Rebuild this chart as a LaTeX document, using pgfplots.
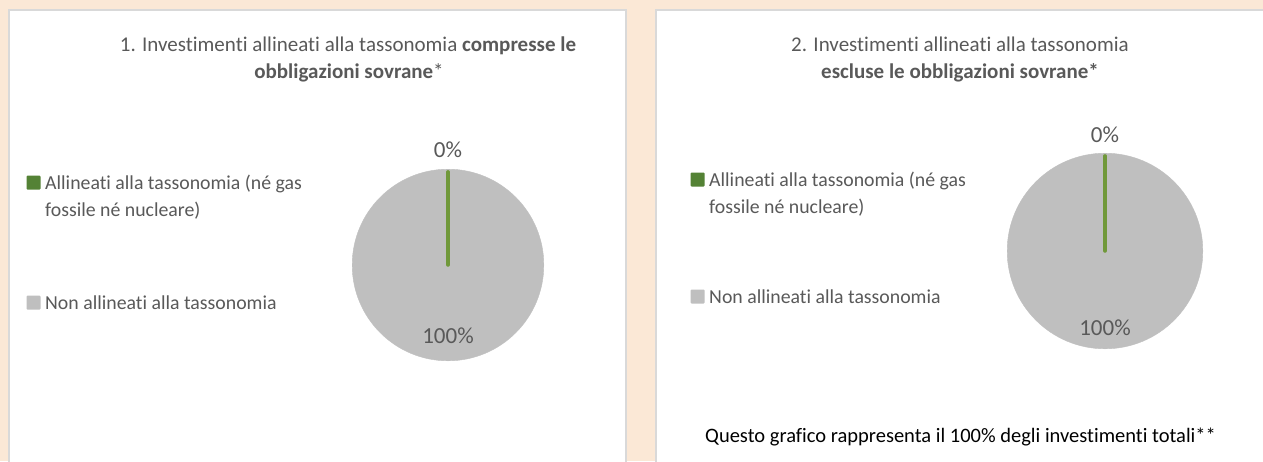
\documentclass[border=0pt]{standalone}
\usepackage{pgfplots}
\pgfplotsset{compat=1.18}
\usepackage{fontspec}
\setmainfont[Ligatures=NoCommon]{Carlito}
\definecolor{bgpeach}{HTML}{FBE8D6}
\definecolor{panelborder}{HTML}{D9D9D9}
\definecolor{pgray}{HTML}{BFBFBF}
\definecolor{pgreen}{HTML}{70983A}
\definecolor{txt}{HTML}{595959}
\definecolor{legreen}{HTML}{548235}
\pgfplotstableread{
x y
0 0
0 0.97
}\sliceA
\newcommand{\tf}{\fontsize{21}{24}\selectfont}
\newcommand{\ff}{\fontsize{20.5}{24}\selectfont}
\newcommand{\lf}{\fontsize{19.8}{24}\selectfont}
\begin{document}
\begin{tikzpicture}[x=1pt,y=-1pt]
\useasboundingbox (0,0) rectangle (1263,461);
\fill[bgpeach] (0,0) rectangle (1263,461);
\filldraw[fill=white,draw=panelborder,line width=2pt] (9,10) rectangle (626,475);
\filldraw[fill=white,draw=panelborder,line width=2pt] (656,10) rectangle (1280,475);
% titles
\node[anchor=base,text=txt,font=\tf] at (348,51) {1. Investimenti allineati alla tassonomia \textbf{compresse le}};
\node[anchor=base,text=txt,font=\tf] at (349,78) {\textbf{obbligazioni sovrane}*};
\node[anchor=base,text=txt,font=\tf] at (960,51) {2. Investimenti allineati alla tassonomia};
\node[anchor=base,text=txt,font=\tf] at (960,78) {\textbf{escluse le obbligazioni sovrane*}};
% legends
\fill[legreen,rounded corners=1pt] (26.5,175.5) rectangle (40.5,189.5);
\node[anchor=base west,inner sep=0pt,text=txt,font=\lf] at (45,189) {Allineati alla tassonomia (né gas};
\node[anchor=base west,inner sep=0pt,text=txt,font=\lf] at (45,216) {fossile né nucleare)};
\fill[pgray,rounded corners=1pt] (26.5,295.5) rectangle (40.5,309.5);
\node[anchor=base west,inner sep=0pt,text=txt,font=\lf] at (45,309) {Non allineati alla tassonomia};
\fill[legreen,rounded corners=1pt] (690.5,172.5) rectangle (704.5,186.5);
\node[anchor=base west,inner sep=0pt,text=txt,font=\lf] at (709,186) {Allineati alla tassonomia (né gas};
\node[anchor=base west,inner sep=0pt,text=txt,font=\lf] at (709,213) {fossile né nucleare)};
\fill[pgray,rounded corners=1pt] (690.5,289.5) rectangle (704.5,303.5);
\node[anchor=base west,inner sep=0pt,text=txt,font=\lf] at (709,303) {Non allineati alla tassonomia};
% footer
\node[anchor=base west,inner sep=0pt,text=black,font=\ff] at (705,442) {Questo grafico rappresenta il 100\% degli investimenti totali**};
% pie 1
\begin{axis}[at={(448pt,-265pt)},anchor=center,scale only axis,width=192pt,height=192pt,
  hide axis,xmin=-1,xmax=1,ymin=-1,ymax=1,clip=false,clip mode=individual]
\addplot[only marks,mark=*,color=pgray,mark size=95.8pt] coordinates {(0,0)};
\addplot[pgreen,line width=3.5pt,line cap=round,mark=none] table {\sliceA};
\node[text=txt,font=\fontsize{23}{27}\selectfont] at (axis cs:0,1.2) {0\%};
\node[text=txt,font=\fontsize{23}{27}\selectfont] at (axis cs:0,-0.74) {100\%};
\end{axis}
% pie 2
\begin{axis}[at={(1105pt,-251pt)},anchor=center,scale only axis,width=196pt,height=196pt,
  hide axis,xmin=-1,xmax=1,ymin=-1,ymax=1,clip=false,clip mode=individual]
\addplot[only marks,mark=*,color=pgray,mark size=97.8pt] coordinates {(0,0)};
\addplot[pgreen,line width=3.5pt,line cap=round,mark=none] table {\sliceA};
\node[text=txt,font=\fontsize{23}{27}\selectfont] at (axis cs:0,1.19) {0\%};
\node[text=txt,font=\fontsize{23}{27}\selectfont] at (axis cs:0,-0.78) {100\%};
\end{axis}
\end{tikzpicture}
\end{document}
